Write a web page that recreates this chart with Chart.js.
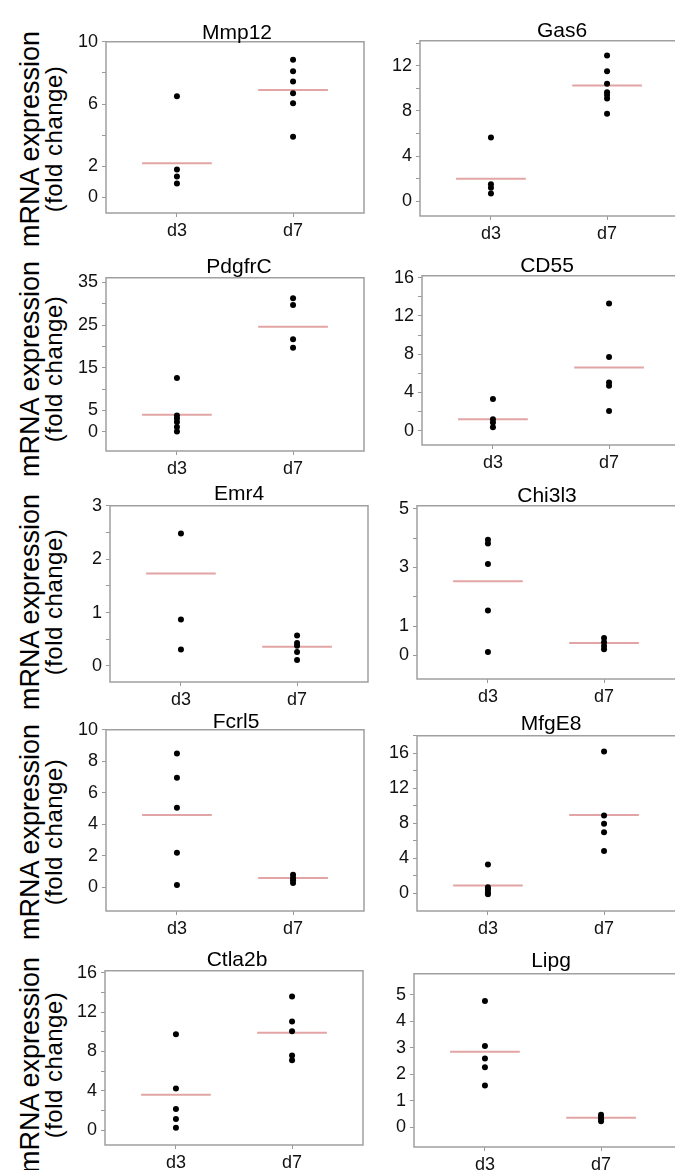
<!DOCTYPE html>
<html>
<head>
<meta charset="utf-8">
<script src="https://cdn.jsdelivr.net/npm/chart.js@4.4.1/dist/chart.umd.min.js"></script>
<style>
  html, body { margin: 0; width: 675px; height: 1170px; overflow: hidden; background: #fff; }
  body { position: relative; font-family: "Liberation Sans", Arial, sans-serif; }
  .panel { position: absolute; overflow: hidden; }
  .panel canvas { position: absolute; left: 0; top: 0; }
  .title { position: absolute; font-size: 21px; line-height: 21px; color: #000; transform: translateX(-50%); white-space: nowrap; }
  .ylab { position: absolute; transform: translate(-50%, -50%) rotate(-90deg); white-space: nowrap; line-height: 1; color: #000; }
</style>
</head>
<body>
<script>
// --- data ---
const days = ['d3', 'd7'];
const genes = ['Mmp12', 'Gas6', 'PdgfrC', 'CD55', 'Emr4', 'Chi3l3', 'Fcrl5', 'MfgE8', 'Ctla2b', 'Lipg'];

const d3Values = [
  [6.5, 1.8, 1.35, 0.9],
  [5.65, 1.5, 1.2, 0.7],
  [12.6, 3.8, 3.1, 2.3, 1.1, 0.1],
  [3.3, 1.2, 0.85, 0.35],
  [2.48, 0.87, 0.31],
  [3.94, 3.82, 3.12, 1.53, 0.12],
  [8.5, 6.95, 5.05, 2.2, 0.15],
  [3.3, 0.7, 0.45, 0.15, -0.1],
  [9.75, 4.25, 2.15, 1.15, 0.25],
  [4.77, 3.07, 2.6, 2.27, 1.58]
];
const d7Values = [
  [8.85, 8.1, 7.45, 6.7, 6.05, 3.9],
  [12.9, 11.5, 10.4, 9.65, 9.4, 9.1, 7.75],
  [31.3, 29.7, 21.7, 19.7],
  [13.3, 7.7, 5.05, 4.7, 2.05],
  [0.57, 0.43, 0.38, 0.26, 0.11],
  [0.6, 0.45, 0.32, 0.21],
  [0.8, 0.6, 0.45, 0.27],
  [16.2, 8.9, 7.95, 7.0, 4.85],
  [13.6, 11.05, 10.05, 7.6, 7.1],
  [0.47, 0.38, 0.3, 0.22]
];
// horizontal bars (group average)
const d3Lines = [2.2, 2.0, 4.0, 1.2, 1.73, 2.53, 4.6, 0.9, 3.6, 2.85];
const d7Lines = [6.9, 10.25, 24.6, 6.6, 0.36, 0.43, 0.6, 8.97, 9.9, 0.36];

// y axis: range, tick step, labelled ticks
const yRanges = [[-1, 10], [-1.3, 14.2], [-4.5, 36.1], [-1.5, 16.2], [-0.3, 3],
                 [-0.8, 5.1], [-1.5, 10], [-2, 18], [-1.5, 16.2], [-0.75, 5.8]];
const ySteps = [2, 2, 5, 2, 0.5, 1, 2, 2, 2, 1];
const yLabels = [
  [0, 2, 6, 10], [0, 4, 8, 12], [0, 5, 15, 25, 35], [0, 4, 8, 12, 16], [0, 1, 2, 3],
  [0, 1, 3, 5], [0, 2, 4, 6, 8, 10], [0, 4, 8, 12, 16], [0, 4, 8, 12, 16], [0, 1, 2, 3, 4, 5]
];

// --- layout: plot box [left, top, bottom] and title [centre x, baseline] ---
const boxes = [[106, 39, 213], [420, 38, 216], [106, 275, 451], [422, 273, 445], [110, 503, 682],
               [417, 503, 679], [106, 727, 911], [417, 733, 911], [105, 968, 1145], [414, 971, 1147]];
const titlePos = [[237, 39], [562, 37], [239, 273], [547, 272], [239, 500],
                  [547, 502], [236, 728], [551, 730], [237, 966], [551, 967]];
const rowLabelY = [139, 369, 602, 832, 1065];

const FONT = '"Liberation Sans", Arial, sans-serif';
const AXW = 48, PADT = 12, AXH = 34, BOXW = 258, PADR = 6;
const HALF = 0.3;
const PAGE_W = 675;

// box round the plot; panels in the right column run off the page, so no right side there
const framePlugin = {
  id: 'frame',
  beforeDatasetsDraw(chart, args, opts) {
    const a = chart.chartArea, ctx = chart.ctx;
    const right = opts.openRight ? chart.width : a.right;
    ctx.save();
    ctx.strokeStyle = '#a0a0a0';
    ctx.lineWidth = 1.5;
    ctx.beginPath();
    ctx.moveTo(right, a.top);
    ctx.lineTo(a.left, a.top);
    ctx.lineTo(a.left, a.bottom);
    ctx.lineTo(right, a.bottom);
    if (!opts.openRight) ctx.closePath();
    ctx.stroke();
    ctx.restore();
  }
};

rowLabelY.forEach(y => {
  const a = document.createElement('div');
  a.className = 'ylab';
  a.style.cssText = `left:30px; top:${y}px; font-size:27px;`;
  a.textContent = 'mRNA expression';
  document.body.appendChild(a);
  const b = document.createElement('div');
  b.className = 'ylab';
  b.style.cssText = `left:54px; top:${y}px; font-size:24px; letter-spacing:0.5px;`;
  b.textContent = '(fold change)';
  document.body.appendChild(b);
});

genes.forEach((gene, i) => {
  const [left, top, bottom] = boxes[i];
  const rightCol = i % 2 === 1;
  const x0 = left - AXW, y0 = top - PADT;
  const w = rightCol ? PAGE_W - x0 + 12 : AXW + BOXW + PADR;
  const h = PADT + (bottom - top) + AXH;

  // wrapper clips the right-hand panels at the page edge
  const wrap = document.createElement('div');
  wrap.className = 'panel';
  wrap.style.cssText = `left:${x0}px; top:${y0}px; width:${Math.min(w, PAGE_W - x0)}px; height:${h}px;`;
  document.body.appendChild(wrap);
  const cv = document.createElement('canvas');
  cv.width = w; cv.height = h;
  cv.style.width = w + 'px'; cv.style.height = h + 'px';
  wrap.appendChild(cv);

  const t = document.createElement('div');
  t.className = 'title';
  t.style.left = titlePos[i][0] + 'px';
  t.style.top = (titlePos[i][1] - 18) + 'px';
  t.textContent = gene;
  document.body.appendChild(t);

  const [ymin, ymax] = yRanges[i];
  const step = ySteps[i];
  const labels = yLabels[i];
  const padR = w - AXW - BOXW;

  new Chart(cv, {
    type: 'scatter',
    data: {
      datasets: [
        { data: d3Values[i].map(v => ({ x: 1, y: v })), backgroundColor: '#000', borderColor: '#000',
          pointRadius: 3, pointBorderWidth: 0, order: 0 },
        { data: d7Values[i].map(v => ({ x: 2, y: v })), backgroundColor: '#000', borderColor: '#000',
          pointRadius: 3, pointBorderWidth: 0, order: 0 },
        { data: [{ x: 1 - HALF, y: d3Lines[i] }, { x: 1 + HALF, y: d3Lines[i] }], showLine: true,
          borderColor: '#e2a4a4', borderWidth: 2, pointRadius: 0, order: 1 },
        { data: [{ x: 2 - HALF, y: d7Lines[i] }, { x: 2 + HALF, y: d7Lines[i] }], showLine: true,
          borderColor: '#e2a4a4', borderWidth: 2, pointRadius: 0, order: 1 }
      ]
    },
    options: {
      responsive: false,
      animation: false,
      layout: { padding: { top: PADT, right: padR, left: 0, bottom: 0 } },
      plugins: { legend: { display: false }, tooltip: { enabled: false }, frame: { openRight: rightCol } },
      scales: {
        x: {
          type: 'linear', min: 0.389, max: 2.611,
          afterBuildTicks: s => { s.ticks = days.map((d, k) => ({ value: k + 1 })); },
          afterFit: s => { s.height = AXH; },
          ticks: { callback: v => days[Math.round(v) - 1], color: '#111', font: { size: 18, family: FONT },
                   padding: 3, maxRotation: 0, autoSkip: false },
          grid: { drawOnChartArea: false, tickLength: 4, color: '#999' },
          border: { display: false }
        },
        y: {
          min: ymin, max: ymax,
          afterBuildTicks: s => {
            const ticks = [];
            for (let k = 0; k * step <= ymax + 1e-9; k++) ticks.push({ value: +(k * step).toFixed(6) });
            s.ticks = ticks;
          },
          afterFit: s => { s.width = AXW; },
          ticks: { callback: v => labels.some(l => Math.abs(l - v) < 1e-6) ? String(v) : '',
                   color: '#111', font: { size: 18, family: FONT }, padding: 4, autoSkip: false },
          grid: { drawOnChartArea: false, tickLength: 4, color: '#999' },
          border: { display: false }
        }
      }
    },
    plugins: [framePlugin]
  });
});
</script>
</body>
</html>
